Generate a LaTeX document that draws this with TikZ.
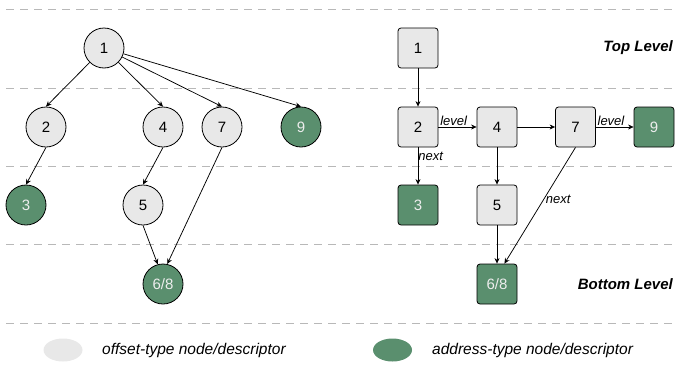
\documentclass[tikz,border=0pt]{standalone}
\usepackage{fontspec}
\setmainfont{Liberation Sans}
\usetikzlibrary{arrows.meta,shapes.geometric}
\definecolor{offsetgray}{HTML}{E8E8E8}
\definecolor{addrgreen}{HTML}{5A8F6E}
\definecolor{sepgray}{HTML}{B8B8B8}
\tikzset{
  tnode/.style={circle, draw=black, line width=0.8pt, minimum size=40pt, inner sep=0pt, font=\fontsize{15}{17}\selectfont},
  lnode/.style={rounded corners=3pt, draw=black, line width=0.8pt, minimum size=40pt, inner sep=0pt, font=\fontsize{15}{17}\selectfont},
  offs/.style={fill=offsetgray, text=black},
  addr/.style={fill=addrgreen, text=white!93!black},
  link/.style={draw=black, line width=0.75pt, -{Stealth[length=5.5pt,width=5pt]}},
  lbl/.style={font=\itshape\fontsize{13}{15}\selectfont, inner sep=1pt},
  levtitle/.style={font=\bfseries\itshape\fontsize{15}{17}\selectfont, anchor=east, inner sep=0pt},
  sep/.style={draw=sepgray, line width=0.9pt, dash pattern=on 8pt off 6pt},
  legtext/.style={font=\itshape\fontsize{15.5}{18}\selectfont, anchor=west, inner sep=0pt}
}
\begin{document}
\begin{tikzpicture}[x=1pt, y=-1pt]
\useasboundingbox (0,0) rectangle (676,367);

% level separators
\foreach \yy in {9,88,166,244,323}
  \draw[sep] (6,\yy) -- (676,\yy);

% tree view
\node[tnode, offs] (t1) at (104,48) {1};
\node[tnode, offs] (t2) at (46,127) {2};
\node[tnode, offs] (t4) at (163,127) {4};
\node[tnode, offs] (t7) at (222,127) {7};
\node[tnode, addr] (t9) at (301,127) {9};
\node[tnode, addr] (t3) at (26,205) {3};
\node[tnode, offs] (t5) at (143,205) {5};
\node[tnode, addr] (t68) at (163,284) {6/8};

\draw[link] (t1) -- (t2.north);
\draw[link] (t1) -- (t4.north);
\draw[link] (t1) -- (t7.north);
\draw[link] (t1) -- (t9.north);
\draw[link] (t2.south) -- (t3.north);
\draw[link] (t4.south) -- (t5.north);
\draw[link] (t5.south) -- (t68.105);
\draw[link] (t7.south) -- (t68.78);

% skip-list view
\node[lnode, offs] (s1) at (418,48) {1};
\node[lnode, offs] (s2) at (418,127) {2};
\node[lnode, offs] (s4) at (497,127) {4};
\node[lnode, offs] (s7) at (575.5,127) {7};
\node[lnode, addr] (s9) at (654,127) {9};
\node[lnode, addr] (s3) at (418,205) {3};
\node[lnode, offs] (s5) at (497,205) {5};
\node[lnode, addr] (s68) at (497,284) {6/8};

\draw[link] (s1) -- (s2);
\draw[link] (s2) -- node[lbl, above, pos=0.4] {level} (s4);
\draw[link] (s4) -- (s7);
\draw[link] (s7) -- node[lbl, above, pos=0.4] {level} (s9);
\draw[link] (s2) -- node[lbl, pos=0.25, right, xshift=-1pt] {next} (s3);
\draw[link] (s4) -- (s5);
\draw[link] (s5) -- (s68);
\draw[link] (s7.south) -- node[lbl, pos=0.45, right, xshift=1pt] {next} (s68.70);

\node[levtitle] (toplev) at (673,48) {Top Level};
\node[levtitle] (botlev) at (673,284) {Bottom Level};

% legend
\node[ellipse, fill=offsetgray, minimum width=39pt, minimum height=23pt, inner sep=0pt] (legoff) at (63,350) {};
\node[legtext] (legofftext) at (102,350) {offset-type node/descriptor};
\node[ellipse, fill=addrgreen, minimum width=39pt, minimum height=23pt, inner sep=0pt] (legaddr) at (392.5,350) {};
\node[legtext] (legaddrtext) at (432,350) {address-type node/descriptor};
\end{tikzpicture}
\end{document}
